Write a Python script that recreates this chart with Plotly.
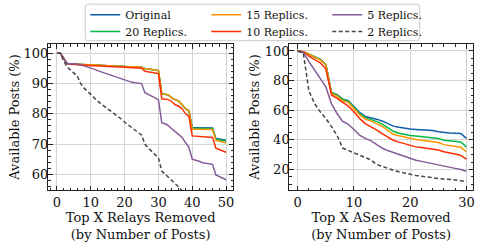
import plotly.graph_objects as go

# ---------------- data ----------------
series_names = ["Original", "20 Replics.", "15 Replics.", "10 Replics.", "5 Replics.", "2 Replics."]
series_colors = ["#0C5DA5", "#00B945", "#FF9500", "#FF2C00", "#845B97", "#474747"]
legend_rows = ["legend", "legend2", "legend", "legend2", "legend", "legend2"]

relays_x = list(range(51))
relays_original = [100, 100, 98.3, 96.6, 96.5, 96.4, 96.4, 96.3, 96.3, 96.2,
                   96.2, 96.1, 96.1, 96.0, 96.0, 95.9, 95.9, 95.8, 95.8, 95.7,
                   95.7, 95.6, 95.6, 95.5, 95.5, 95.4, 95.0, 94.9, 94.8, 94.5,
                   94.3, 86.6, 86.5, 86.2, 85.2, 84.8, 84.2, 83.0, 81.7, 81.0,
                   75.4, 75.4, 75.4, 75.4, 75.4, 75.4, 75.3, 71.8, 71.6, 71.5, 71.3]
relays_20 = [100, 100, 98.3, 96.6, 96.5, 96.4, 96.4, 96.3, 96.3, 96.2,
             96.2, 96.1, 96.1, 96.0, 96.0, 95.9, 95.9, 95.8, 95.8, 95.7,
             95.7, 95.6, 95.6, 95.5, 95.5, 95.4, 95.0, 94.9, 94.8, 94.5,
             94.3, 86.6, 86.5, 86.2, 85.2, 84.8, 84.2, 83.0, 81.7, 81.0,
             75.2, 75.2, 75.2, 75.2, 75.2, 75.2, 75.1, 71.6, 71.4, 71.2, 71.0]
relays_15 = [100, 100, 98.3, 96.6, 96.5, 96.4, 96.4, 96.3, 96.3, 96.2,
             96.2, 96.1, 96.1, 96.0, 96.0, 95.9, 95.9, 95.8, 95.8, 95.7,
             95.7, 95.6, 95.6, 95.5, 95.5, 95.4, 95.0, 94.9, 94.8, 94.5,
             94.3, 86.6, 86.5, 86.2, 85.2, 84.8, 84.2, 83.0, 81.7, 81.0,
             74.9, 74.9, 74.9, 74.9, 74.9, 74.9, 74.8, 71.2, 71.0, 70.8, 70.4]
relays_10 = [100, 100, 98.3, 96.6, 96.4, 96.3, 96.2, 96.1, 96.0, 96.0,
             95.9, 95.9, 95.8, 95.8, 95.7, 95.7, 95.6, 95.6, 95.5, 95.5,
             95.4, 95.4, 95.3, 95.3, 95.2, 95.1, 94.1, 93.9, 93.7, 93.5,
             93.3, 85.0, 84.9, 84.7, 84.0, 83.0, 82.5, 81.7, 80.0, 79.2,
             72.7, 72.6, 72.5, 72.4, 72.3, 72.3, 72.2, 68.6, 68.1, 67.7, 67.3]
relays_5 = [100, 100, 98.3, 96.6, 96.6, 96.6, 96.5, 96.2, 95.9, 95.6,
            95.2, 94.8, 94.3, 93.9, 93.5, 93.1, 92.8, 92.4, 92.0, 91.6,
            91.2, 90.8, 90.5, 90.3, 90.2, 90.0, 87.0, 86.5, 85.9, 85.3,
            84.6, 77.0, 76.7, 76.0, 75.0, 74.0, 73.2, 72.2, 70.5, 69.0,
            65.0, 64.7, 64.3, 63.8, 63.6, 63.4, 63.3, 59.8, 59.2, 58.7, 58.2]
relays_2_x = list(range(41))
relays_2 = [100, 100, 97.5, 95.5, 94.5, 93.5, 92.5, 90.0, 88.5, 87.5,
            86.3, 85.2, 84.2, 83.3, 82.5, 81.6, 80.8, 80.0, 79.2, 78.3,
            77.3, 76.5, 75.6, 74.7, 73.8, 73.0, 70.0, 68.7, 67.5, 66.5,
            65.5, 61.0, 60.0, 59.0, 58.0, 57.0, 55.8, 54.5, 53.3, 52.0, 50.5]

ases_x = list(range(31))
ases_original = [100, 99.5, 97.8, 96.0, 94.3, 91.0, 72.0, 70.5, 67.5, 66.5,
                 62.5, 58.5, 55.8, 55.0, 54.0, 52.8, 50.8, 49.3, 48.5, 47.8,
                 47.3, 47.0, 46.8, 46.5, 46.3, 45.5, 44.8, 44.6, 44.5, 44.3, 41.0]
ases_20 = [100, 99.5, 97.8, 96.0, 94.3, 91.0, 71.8, 70.2, 67.2, 66.0,
           61.8, 58.0, 55.0, 54.0, 52.5, 50.8, 48.5, 45.8, 44.5, 43.5,
           43.0, 42.6, 42.3, 41.8, 41.5, 41.0, 39.8, 39.3, 39.0, 38.6, 35.3]
ases_15 = [100, 99.5, 97.8, 95.8, 94.0, 90.8, 71.3, 69.5, 66.5, 65.3,
           60.8, 57.0, 54.0, 52.8, 51.0, 49.2, 46.5, 43.8, 42.8, 41.8,
           40.8, 40.3, 39.8, 39.3, 38.8, 38.2, 36.8, 36.3, 35.8, 35.0, 32.0]
ases_10 = [100, 99.5, 96.5, 94.5, 92.0, 88.0, 70.3, 68.0, 65.5, 62.8,
           59.0, 54.5, 51.0, 49.0, 46.8, 44.2, 42.0, 39.8, 38.5, 37.5,
           36.2, 35.3, 34.8, 34.3, 33.8, 33.2, 32.0, 31.5, 30.5, 29.5, 27.0]
ases_5 = [100, 99.0, 92.8, 87.0, 81.5, 75.8, 64.5, 57.8, 52.5, 50.5,
          47.0, 43.2, 41.0, 39.5, 37.0, 34.5, 32.8, 31.5, 30.0, 28.8,
          27.3, 26.3, 25.5, 24.8, 24.0, 23.3, 22.5, 21.5, 20.8, 20.0, 18.8]
ases_2 = [100, 98.5, 73.0, 64.5, 59.0, 54.5, 49.0, 43.0, 34.5, 33.0,
          31.2, 29.5, 28.0, 26.5, 23.5, 22.0, 20.5, 19.5, 18.5, 17.5,
          16.6, 16.0, 15.5, 15.2, 14.5, 14.0, 13.8, 13.5, 13.0, 12.5, 11.8]

left_x_ticks = [0, 10, 20, 30, 40, 50]
left_y_ticks = [60, 70, 80, 90, 100]
right_x_ticks = [0, 10, 20, 30]
right_y_ticks = [20, 40, 60, 80, 100]

left_xtitle = "Top X Relays Removed<br>(by Number of Posts)"
right_xtitle = "Top X ASes Removed<br>(by Number of Posts)"
ytitle = "Available Posts (%)"

# ---------------- figure ----------------
FONT = "DejaVu Serif"
fig = go.Figure()

left_sets = [(relays_x, relays_original), (relays_x, relays_20), (relays_x, relays_15),
             (relays_x, relays_10), (relays_x, relays_5), (relays_2_x, relays_2)]
right_sets = [(ases_x, ases_original), (ases_x, ases_20), (ases_x, ases_15),
              (ases_x, ases_10), (ases_x, ases_5), (ases_x, ases_2)]

for i, name in enumerate(series_names):
    dash = "4px,2.5px" if name == "2 Replics." else "solid"
    xs, ys = left_sets[i]
    fig.add_trace(go.Scatter(x=xs, y=ys, mode="lines", name=name,
                             line=dict(color=series_colors[i], width=1.5, dash=dash),
                             legend=legend_rows[i], legendrank=i, showlegend=True,
                             xaxis="x", yaxis="y"))
for i, name in enumerate(series_names):
    dash = "4px,2.5px" if name == "2 Replics." else "solid"
    xs, ys = right_sets[i]
    fig.add_trace(go.Scatter(x=xs, y=ys, mode="lines", name=name,
                             line=dict(color=series_colors[i], width=1.5, dash=dash),
                             showlegend=False, xaxis="x2", yaxis="y2"))

def axis_style(**kw):
    d = dict(showline=True, linecolor="#222", linewidth=1, mirror="allticks",
             ticks="inside", ticklen=4.5, tickwidth=1, tickcolor="#222",
             showgrid=True, gridcolor="#d4d4d4", gridwidth=1, zeroline=False,
             automargin=False,
             tickfont=dict(family=FONT, size=13, color="#111"),
             title_font=dict(family=FONT, size=13, color="#111"))
    d.update(kw)
    return d

W, H = 479, 243
ml, mr, mt, mb = 47.7, 5.7, 44, 52.5
pw = W - ml - mr
ph = H - mt - mb
def xd(px):
    return (px - ml) / pw
def yd(py):
    return (H - mb - py) / ph

def legend_row(top_px):
    return dict(orientation="h", xanchor="left", yanchor="top",
                x=xd(85), y=yd(top_px),
                entrywidth=76, entrywidthmode="pixels",
                bgcolor="rgba(0,0,0,0)", borderwidth=0,
                font=dict(family=FONT, size=11, color="#111"),
                tracegroupgap=0, itemwidth=30)

# rounded legend frame
bx0, bx1, by0, by1, r = 85, 420, 4, 40.7, 3
rx, ry = r / pw, r / ph
X0, X1, Y0, Y1 = xd(bx0), xd(bx1), yd(by1), yd(by0)
frame_path = (f"M{X0+rx},{Y0} L{X1-rx},{Y0} Q{X1},{Y0} {X1},{Y0+ry} "
              f"L{X1},{Y1-ry} Q{X1},{Y1} {X1-rx},{Y1} L{X0+rx},{Y1} "
              f"Q{X0},{Y1} {X0},{Y1-ry} L{X0},{Y0+ry} Q{X0},{Y0} {X0+rx},{Y0} Z")

fig.update_layout(
    width=W, height=H,
    margin=dict(l=ml, r=mr, t=mt, b=mb, pad=0, autoexpand=False),
    paper_bgcolor="white", plot_bgcolor="white",
    font=dict(family=FONT, size=13, color="#111"),
    xaxis=axis_style(domain=[0, xd(233.3)], range=[-2.65, 52.15], tickvals=left_x_ticks,
                     minor=dict(ticks="inside", ticklen=2.5, dtick=2, tick0=0, tickcolor="#222", showgrid=False),
                     title=dict(text=left_xtitle, standoff=4), anchor="y"),
    yaxis=axis_style(domain=[0, 1], range=[54.8, 103.1], tickvals=left_y_ticks,
                     ticklabelstandoff=-4,
                     minor=dict(ticks="inside", ticklen=2.5, dtick=2, tick0=0, tickcolor="#222", showgrid=False),
                     title=dict(text=ytitle, standoff=1), anchor="x"),
    xaxis2=axis_style(domain=[xd(289.3), 1], range=[-1.5, 31.17], tickvals=right_x_ticks,
                      minor=dict(ticks="inside", ticklen=2.5, dtick=2, tick0=0, tickcolor="#222", showgrid=False),
                      title=dict(text=right_xtitle, standoff=4), anchor="y2"),
    yaxis2=axis_style(domain=[0, 1], range=[6.2, 104.7], tickvals=right_y_ticks,
                      ticklabelstandoff=-4,
                      minor=dict(ticks="inside", ticklen=2.5, dtick=5, tick0=0, tickcolor="#222", showgrid=False),
                      title=dict(text=ytitle, standoff=2), anchor="x2"),
    legend=legend_row(0),
    legend2=legend_row(17),
    shapes=[dict(type="path", xref="paper", yref="paper", path=frame_path,
                 fillcolor="white", line=dict(color="#cccccc", width=1), layer="above")],
)

fig.write_html("out.html", config={"displayModeBar": False},
               post_script="document.body.style.margin='0';document.body.style.overflow='hidden';")
